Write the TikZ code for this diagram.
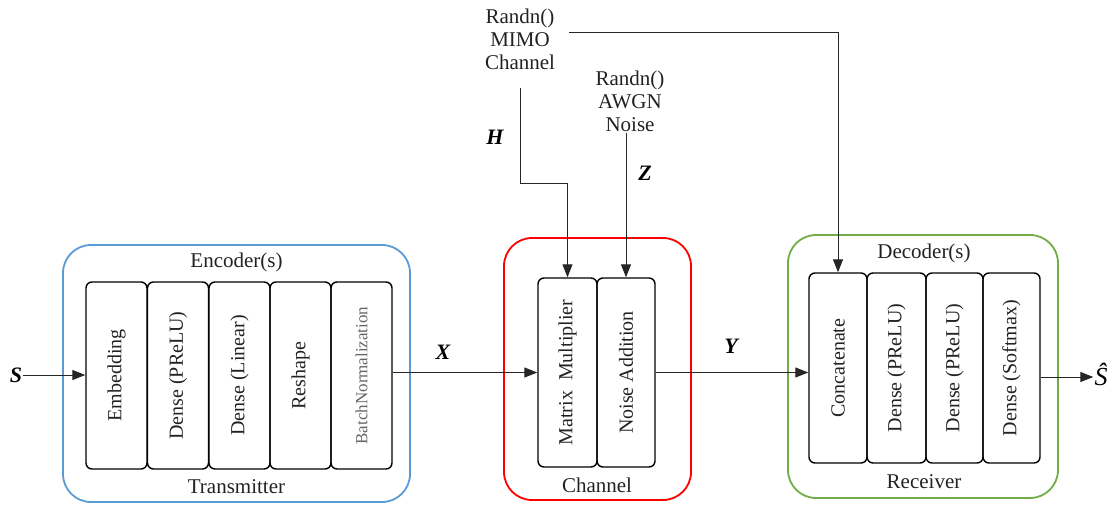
\documentclass[tikz,border=0pt]{standalone}
\usepackage{fontspec}
\setmainfont{Liberation Serif}
\usetikzlibrary{arrows.meta}
\definecolor{encblue}{HTML}{5B9BD5}
\definecolor{chred}{HTML}{FF0000}
\definecolor{decgreen}{HTML}{70AD47}
\definecolor{txt}{HTML}{222222}
\begin{document}
\begin{tikzpicture}[x=1pt,y=-1pt,
  blk/.style={draw=black,line width=1.4pt,rounded corners=6pt,inner sep=0pt,text=txt,font=\fontsize{20}{22}\selectfont},
  outer/.style={line width=1.8pt,rounded corners=28pt},
  lbl/.style={text=txt,font=\fontsize{21}{23}\selectfont,inner sep=1pt},
  sym/.style={text=black,font=\fontsize{22}{24}\selectfont\bfseries\itshape,inner sep=1pt},
  arr/.style={draw=black!85,line width=1pt,-{Triangle[length=13pt,width=10pt]}},
  ln/.style={draw=black!85,line width=1pt}]
\useasboundingbox (0,0) rectangle (1114,506);
% outer boxes
\draw[outer,draw=encblue] (63,245) rectangle (410,502);
\draw[outer,draw=chred] (504,238) rectangle (691,500);
\draw[outer,draw=decgreen] (788,235) rectangle (1058,498);
\node[lbl] (enclbl) at (236.5,262) {Encoder(s)};
\node[lbl] (txlbl) at (236.5,487) {Transmitter};
\node[lbl] (chlbl) at (597,485) {Channel};
\node[lbl] (declbl) at (924,253) {Decoder(s)};
\node[lbl] (rxlbl) at (924,482) {Receiver};
% encoder blocks
\node[blk,minimum width=61pt,minimum height=187pt] (e1) at (116.5,375.5) {\rotatebox{90}{Embedding}};
\node[blk,minimum width=61pt,minimum height=187pt] (e2) at (178,375.5) {\rotatebox{90}{Dense (PReLU)}};
\node[blk,minimum width=61pt,minimum height=187pt] (e3) at (239.5,375.5) {\rotatebox{90}{Dense (Linear)}};
\node[blk,minimum width=61pt,minimum height=187pt] (e4) at (300.5,375.5) {\rotatebox{90}{Reshape}};
\node[blk,minimum width=61pt,minimum height=187pt,text=black!60,font=\fontsize{17}{19}\selectfont] (e5) at (361.5,375.5) {\rotatebox{90}{BatchNormalization}};
% channel blocks
\node[blk,minimum width=59pt,minimum height=189pt] (c1) at (567.5,372.5) {\rotatebox{90}{Matrix\ \ Multiplier}};
\node[blk,minimum width=58pt,minimum height=189pt] (c2) at (626,372.5) {\rotatebox{90}{Noise Addition}};
% decoder blocks
\node[blk,minimum width=58pt,minimum height=190pt] (d1) at (838,368) {\rotatebox{90}{Concatenate}};
\node[blk,minimum width=59pt,minimum height=190pt] (d2) at (896.5,368) {\rotatebox{90}{Dense (PReLU)}};
\node[blk,minimum width=57pt,minimum height=190pt] (d3) at (954.5,368) {\rotatebox{90}{Dense (PReLU)}};
\node[blk,minimum width=57pt,minimum height=190pt] (d4) at (1011.5,368) {\rotatebox{90}{Dense (Softmax)}};
% sources
\node[lbl,align=center] (mimo) at (520,39) {Randn()\\MIMO\\Channel};
\node[lbl,align=center] (awgn) at (630,101) {Randn()\\AWGN\\Noise};
\coordinate (hs) at (520,88);
\coordinate (ts) at (569,32);
% symbols
\node[sym] (S) at (16,375) {S};
\node[sym] (X) at (443,352) {X};
\node[sym] (Y) at (731,346) {Y};
\node[sym] (H) at (495,137) {H};
\node[sym] (Z) at (645,173) {Z};
\node[text=black,font=\fontsize{26}{28}\selectfont\itshape,inner sep=1pt] (shat) at (1101,374) {Ŝ};
% connectors
\draw[arr] (S.east) -- (e1.west |- S.east);
\draw[arr] (e5.east |- c1.west) -- (c1.west);
\draw[arr] (c2.east) -- (c2.east -| d1.west);
\draw[arr] (d4.east |- 0,377) -- (shat.west |- 0,377);
\draw[arr] (hs) -- (hs |- 0,183) -| (c1.north);
\draw[arr] (awgn.south -| c2.north) -- (c2.north);
\draw[arr] (ts) -| (d1.north);
\end{tikzpicture}
\end{document}
